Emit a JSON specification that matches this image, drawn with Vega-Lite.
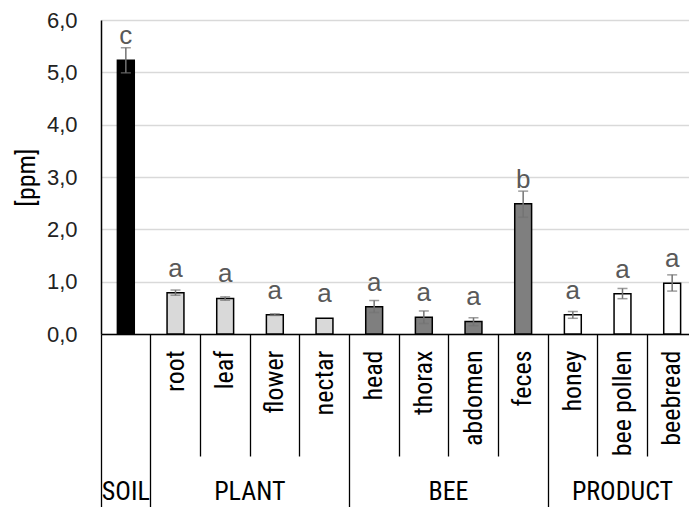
{
  "$schema": "https://vega.github.io/schema/vega-lite/v6.json",
  "autosize": {"type": "none"},
  "padding": {"left": 101, "top": 20, "right": 0, "bottom": 173},
  "width": 588,
  "height": 314,
  "background": "white",
  "config": {"view": {"stroke": null}, "font": "'Roboto Condensed', Roboto"},
  "data": {"values": [
    {"item": "SOIL", "group": "SOIL", "value": 5.23, "lo": 4.99, "hi": 5.47, "letter": "c"},
    {"item": "root", "group": "PLANT", "value": 0.79, "lo": 0.74, "hi": 0.84, "letter": "a"},
    {"item": "leaf", "group": "PLANT", "value": 0.68, "lo": 0.645, "hi": 0.71, "letter": "a"},
    {"item": "flower", "group": "PLANT", "value": 0.37, "lo": 0.355, "hi": 0.385, "letter": "a"},
    {"item": "nectar", "group": "PLANT", "value": 0.30, "lo": null, "hi": null, "letter": "a"},
    {"item": "head", "group": "BEE", "value": 0.52, "lo": 0.41, "hi": 0.64, "letter": "a"},
    {"item": "thorax", "group": "BEE", "value": 0.32, "lo": 0.20, "hi": 0.44, "letter": "a"},
    {"item": "abdomen", "group": "BEE", "value": 0.24, "lo": 0.16, "hi": 0.31, "letter": "a"},
    {"item": "feces", "group": "BEE", "value": 2.49, "lo": 2.23, "hi": 2.73, "letter": "b"},
    {"item": "honey", "group": "PRODUCT", "value": 0.37, "lo": 0.30, "hi": 0.43, "letter": "a"},
    {"item": "bee pollen", "group": "PRODUCT", "value": 0.77, "lo": 0.675, "hi": 0.87, "letter": "a"},
    {"item": "beebread", "group": "PRODUCT", "value": 0.97, "lo": 0.82, "hi": 1.13, "letter": "a"}
  ]},
  "resolve": {"axis": {"x": "independent", "y": "independent"}},
  "layer": [
    {
      "mark": {"type": "bar", "width": {"band": 0.34}, "stroke": "black", "strokeWidth": 1.5},
      "encoding": {
        "x": {"field": "item", "type": "nominal", "sort": null,
          "scale": {"range": [0, 596], "paddingInner": 0, "paddingOuter": 0},
          "axis": {"orient": "bottom", "title": null, "ticks": false, "domain": true, "domainColor": "black", "domainWidth": 1.5,
            "labelAngle": 270, "labelAlign": "right", "labelBaseline": "middle", "labelPadding": 16,
            "labelFont": "'Roboto Condensed', Roboto", "labelFontSize": 26, "labelColor": "black",
            "labelOverlap": false, "labelBound": false, "labelFlush": false,
            "labelExpr": "datum.value == 'SOIL' ? '' : datum.value"}},
        "y": {"field": "value", "type": "quantitative", "scale": {"domain": [0, 6], "nice": false},
          "axis": {"title": "[ppm]", "titleFont": "'Roboto Condensed', Roboto", "titleFontSize": 26, "titleFontWeight": "normal",
            "titleColor": "black", "titlePadding": 7,
            "values": [0, 1, 2, 3, 4, 5, 6], "ticks": false, "labelPadding": 24, "labelOverlap": false,
            "labelFont": "Liberation Sans", "labelFontSize": 22, "labelColor": "#222222",
            "labelExpr": "replace(format(datum.value, '.1f'), '.', ',')",
            "domain": true, "domainColor": "black", "domainWidth": 1.5,
            "grid": true, "gridColor": "#d9d9d9", "gridWidth": 1.3}},
        "fill": {"field": "group", "type": "nominal",
          "scale": {"domain": ["SOIL", "PLANT", "BEE", "PRODUCT"], "range": ["#000000", "#d9d9d9", "#7f7f7f", "#ffffff"]},
          "legend": null}
      }
    },
    {
      "mark": {"type": "rule", "color": "#737373", "strokeWidth": 1.5},
      "encoding": {
        "x": {"field": "item", "type": "nominal", "sort": null,
          "axis": {"orient": "bottom", "title": null, "labels": false, "domain": false, "bandPosition": 0, "grid": false,
            "ticks": true, "tickColor": "black", "tickWidth": 1.3,
            "tickSize": {"condition": {"test": "indexof(['SOIL','root','head','honey'], datum.value) >= 0", "value": 173}, "value": 122}}},
        "y": {"field": "lo", "type": "quantitative", "axis": null},
        "y2": {"field": "hi"}
      }
    },
    {
      "mark": {"type": "tick", "color": "#737373", "size": 10, "thickness": 1.5, "orient": "horizontal"},
      "encoding": {
        "x": {"field": "item", "type": "nominal", "sort": null, "axis": null},
        "y": {"field": "lo", "type": "quantitative", "axis": null}
      }
    },
    {
      "mark": {"type": "tick", "color": "#737373", "size": 10, "thickness": 1.5, "orient": "horizontal"},
      "encoding": {
        "x": {"field": "item", "type": "nominal", "sort": null, "axis": null},
        "y": {"field": "hi", "type": "quantitative", "axis": null}
      }
    },
    {
      "mark": {"type": "text", "font": "Liberation Sans", "fontSize": 26, "color": "#595959", "baseline": "alphabetic", "dy": -16},
      "encoding": {
        "x": {"field": "item", "type": "nominal", "sort": null,
          "axis": {"orient": "bottom", "title": null, "ticks": false, "domain": false, "grid": false, "labelAngle": 0,
            "labelAlign": "center", "labelBaseline": "top", "labelPadding": 144,
            "labelFont": "'Roboto Condensed', Roboto", "labelFontSize": 26, "labelColor": "black",
            "labelOverlap": false, "labelBound": false, "labelFlush": false,
            "labelOffset": {"condition": {"test": "datum.value == 'SOIL' || datum.value == 'bee pollen'", "value": 0}, "value": -25},
            "labelExpr": "datum.value == 'SOIL' ? 'SOIL' : datum.value == 'flower' ? 'PLANT' : datum.value == 'abdomen' ? 'BEE' : datum.value == 'bee pollen' ? 'PRODUCT' : ''"}},
        "y": {"field": "value", "type": "quantitative", "axis": null},
        "text": {"field": "letter"}
      }
    }
  ]
}
